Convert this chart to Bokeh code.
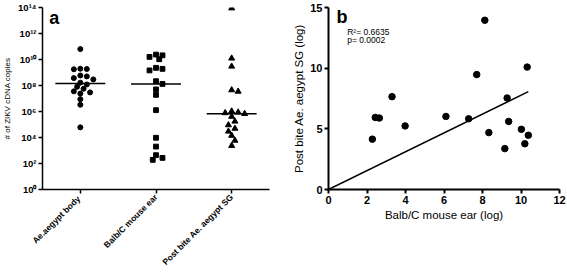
import math
import numpy as np
from bokeh.plotting import figure
from bokeh.models import Range1d, FixedTicker, CustomJSTickFormatter, Label
from bokeh.layouts import row
from bokeh.embed import file_html
from bokeh.resources import INLINE

# ---------------- data (log10 copies) ----------------
categories = ["Ae.aegypt  body", "Balb/C mouse ear", "Post bite Ae. aegypt SG"]
body_log = [10.80, 9.27, 9.25, 9.29, 8.70, 8.47, 8.57, 8.77, 8.08, 7.75, 7.90,
            8.22, 7.55, 7.38, 7.47, 6.95, 6.52, 4.78]
ear_log = [2.28, 2.43, 2.64, 3.30, 3.98, 6.10, 7.28, 7.70, 8.12, 8.33, 9.16,
           9.28, 9.36, 10.02, 10.20, 10.32, 10.38]
sg_log = [4.15, 5.94, 5.89, 7.65, 5.24, 6.02, 5.83, 9.47, 13.95, 4.69, 3.37,
          7.54, 5.61, 4.96, 3.77, 10.09, 4.47]
y_exponents = [0, 2, 4, 6, 8, 10, 12, 14]
r2_text = "R\u00b2= 0.6635"
p_text = "p= 0.0002"

FONT = "Liberation Sans"

# ---------------- panel a ----------------
FW_A, FH_A = 233, 186
pa = figure(width=290, height=273, x_range=Range1d(0, 3), y_range=Range1d(1, 1e14),
            y_axis_type="log", output_backend="svg", toolbar_location=None,
            min_border_left=36, min_border_right=21, min_border_top=7, min_border_bottom=80)
pa.outline_line_color = None
pa.grid.visible = False


def swarm(vals, py_unit, step, dmin):
    order = sorted(range(len(vals)), key=lambda i: -vals[i])
    placed = []
    offs = [0.0] * len(vals)
    cands = [0] + [s * j for j in range(1, 30) for s in (1, -1)]
    for i in order:
        y = vals[i] * py_unit
        for c in cands:
            x = c * step
            if all((x - qx) ** 2 + (y - qy) ** 2 >= dmin ** 2 for qx, qy in placed):
                break
        placed.append((x, y))
        offs[i] = x
    return offs


py_dec = FH_A / 14.0
px_cat = FW_A / 3.0
groups = [(body_log, "circle", 5.0), (ear_log, "square", 4.8), (sg_log, "triangle", 6.0)]
for gi, (vals, marker, sz) in enumerate(groups):
    center = gi + 0.5
    offs = swarm(vals, py_dec, 3.33, 5.1)
    xs = [center + o / px_cat for o in offs]
    ys = [10 ** v for v in vals]
    pa.scatter(xs, ys, marker=marker, size=sz, fill_color="black", line_color="black")
    med = 10 ** float(np.median(vals))
    pa.segment(x0=[center - 0.33], x1=[center + 0.33], y0=[med], y1=[med],
               line_color="black", line_width=1.5)

pa.xaxis.ticker = FixedTicker(ticks=[0.5, 1.5, 2.5])
pa.xaxis.major_label_overrides = {0.5: categories[0], 1.5: categories[1], 2.5: categories[2]}
pa.xaxis.major_label_orientation = math.pi / 4
pa.xaxis.major_label_text_font = FONT
pa.xaxis.major_label_text_font_style = "bold"
pa.xaxis.major_label_text_font_size = "8.5px"
pa.xaxis.major_label_standoff = 2

pa.yaxis.ticker = FixedTicker(ticks=[10.0 ** e for e in y_exponents])
pa.yaxis.formatter = CustomJSTickFormatter(code="""
const sup = {'0':'\u2070','1':'\u00b9','2':'\u00b2','3':'\u00b3','4':'\u2074','5':'\u2075','6':'\u2076','7':'\u2077','8':'\u2078','9':'\u2079'};
const e = Math.round(Math.log10(tick));
return '10' + String(e).split('').map(c => sup[c]).join('');
""")
pa.yaxis.axis_label = "# of ZIKV cDNA copies"
pa.yaxis.axis_label_text_font = FONT
pa.yaxis.axis_label_text_font_style = "normal"
pa.yaxis.axis_label_text_font_size = "8px"
pa.yaxis.axis_label_standoff = 3
pa.yaxis.major_label_text_font = FONT
pa.yaxis.major_label_text_font_style = "bold"
pa.yaxis.major_label_text_font_size = "9.5px"
pa.yaxis.major_label_standoff = 2

for ax in (pa.xaxis, pa.yaxis):
    ax.axis_line_width = 1.5
    ax.major_tick_line_width = 1.5
    ax.major_tick_out = 4
    ax.major_tick_in = 0
    ax.minor_tick_line_color = None
    ax.axis_line_color = "black"
    ax.major_tick_line_color = "black"
    ax.major_label_text_color = "black"
    ax.axis_label_text_color = "black"

pa.add_layout(Label(x=0.09, y=10 ** 13.2, text="a", text_font=FONT, text_font_style="bold",
                    text_font_size="18px", text_color="black", text_baseline="alphabetic"))

# ---------------- panel b ----------------
pb = figure(width=277, height=273, x_range=Range1d(0, 12), y_range=Range1d(0, 15),
            output_backend="svg", toolbar_location=None,
            min_border_left=37, min_border_right=8, min_border_top=7, min_border_bottom=81)
pb.outline_line_color = None
pb.grid.visible = False

pb.scatter(ear_log, sg_log, marker="circle", size=6.5, fill_color="black", line_color="black")
xa = np.array(ear_log)
ya = np.array(sg_log)
slope = float((xa * ya).sum() / (xa * xa).sum())
xmax = float(xa.max())
pb.line([0, xmax], [0, slope * xmax], line_color="black", line_width=1.5)

pb.xaxis.ticker = FixedTicker(ticks=[0, 2, 4, 6, 8, 10, 12])
pb.yaxis.ticker = FixedTicker(ticks=[0, 5, 10, 15])
pb.xaxis.axis_label = "Balb/C mouse ear (log)"
pb.yaxis.axis_label = "Post bite Ae. aegypt SG (log)"
for ax in (pb.xaxis, pb.yaxis):
    ax.axis_line_width = 2
    ax.major_tick_line_width = 2
    ax.major_tick_out = 4
    ax.major_tick_in = 0
    ax.minor_tick_line_color = None
    ax.major_label_text_font = FONT
    ax.major_label_text_font_style = "bold"
    ax.major_label_text_font_size = "11px"
    ax.major_label_standoff = 2
    ax.axis_label_text_font = FONT
    ax.axis_label_text_font_style = "normal"
    ax.axis_label_text_font_size = "11.5px"
    ax.axis_label_standoff = 2
    ax.axis_line_color = "black"
    ax.major_tick_line_color = "black"
    ax.major_label_text_color = "black"
    ax.axis_label_text_color = "black"

pb.add_layout(Label(x=0.41, y=14.24, text="b", text_font=FONT, text_font_style="bold",
                    text_font_size="18px", text_color="black", text_baseline="alphabetic"))
pb.add_layout(Label(x=0.97, y=13.0, text=r2_text, text_font=FONT, text_font_size="8.5px",
                    text_color="black", text_baseline="alphabetic"))
pb.add_layout(Label(x=0.97, y=12.29, text=p_text, text_font=FONT, text_font_size="8.5px",
                    text_color="black", text_baseline="alphabetic"))

layout = row(pa, pb)
open("out.html", "w").write(file_html(layout, INLINE))
